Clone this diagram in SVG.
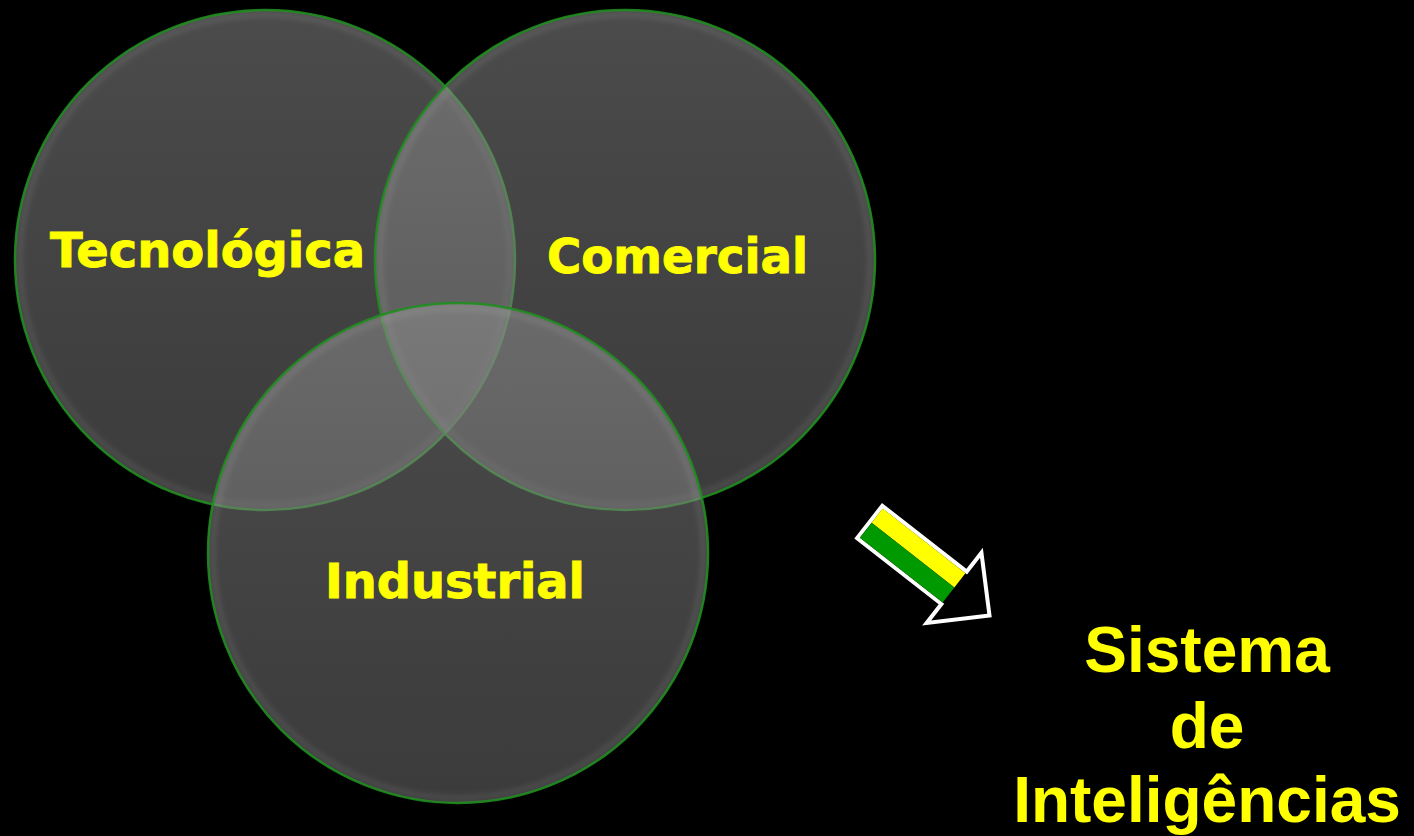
<svg xmlns="http://www.w3.org/2000/svg" width="1414" height="836" viewBox="0 0 1414 836">
  <defs>
    <linearGradient id="cfill" x1="0" y1="0" x2="0" y2="1">
      <stop offset="0" stop-color="#8e8e8e"/>
      <stop offset="1" stop-color="#707070"/>
    </linearGradient>
    <filter id="soft" x="-10%" y="-10%" width="120%" height="120%">
      <feGaussianBlur stdDeviation="2.5"/>
    </filter>
    <style>
      .circ { fill: url(#cfill); fill-opacity: 0.53; stroke: #1c8c1c; stroke-width: 2.5; stroke-opacity: 0.9; }
      .rim { fill: none; stroke: #ffffff; stroke-opacity: 0.08; stroke-width: 6; filter: url(#soft); }
      .lbl { font-family: "DejaVu Sans", Verdana, sans-serif; font-weight: bold; font-size: 48px; fill: #ffff00; stroke: #ffff00; stroke-width: 0.9; }
      .big { font-family: "Liberation Sans", Arial, sans-serif; font-weight: bold; font-size: 64px; fill: #ffff00; text-anchor: middle; }
    </style>
  </defs>
  <rect x="0" y="0" width="1414" height="836" fill="#000000"/>

  <g id="node-tecnologica">
    <circle class="circ" cx="265" cy="260" r="250"/>
    <circle class="rim" cx="265" cy="260" r="245"/>
  </g>
  <g id="node-comercial">
    <circle class="circ" cx="625" cy="260" r="250"/>
    <circle class="rim" cx="625" cy="260" r="245"/>
  </g>
  <g id="node-industrial">
    <circle class="circ" cx="458" cy="553" r="250"/>
    <circle class="rim" cx="458" cy="553" r="245"/>
  </g>

  <g id="labels">
    <text class="lbl" x="50" y="267" textLength="315" lengthAdjust="spacingAndGlyphs">Tecnológica</text>
    <text class="lbl" x="547" y="273" textLength="261" lengthAdjust="spacingAndGlyphs">Comercial</text>
    <text class="lbl" x="325" y="598" textLength="260" lengthAdjust="spacingAndGlyphs">Industrial</text>
  </g>

  <g id="connectors">
    <g transform="translate(882,503) rotate(38)">
      <polygon points="2,2 109,2 109,-22 154,22.5 109,67 109,43 2,43" fill="#000000" stroke="#ffffff" stroke-width="4" stroke-linejoin="miter"/>
      <rect x="4" y="4" width="105" height="18" fill="#ffff00"/>
      <rect x="4" y="22" width="105" height="19" fill="#009900"/>
    </g>
  </g>

  <g id="node-sistema">
    <text class="big" x="1207" y="672">Sistema</text>
    <text class="big" x="1207" y="748">de</text>
    <text class="big" x="1207" y="822">Inteligências</text>
  </g>
</svg>
